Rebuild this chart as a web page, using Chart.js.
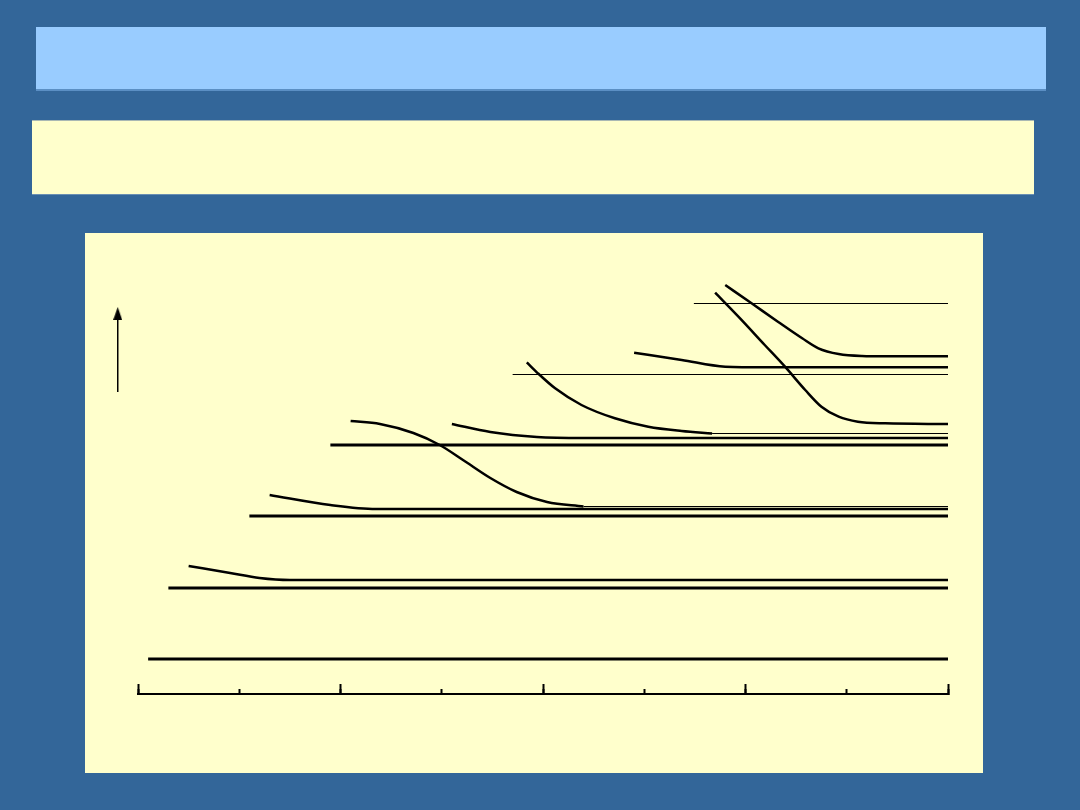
<!DOCTYPE html>
<html>
<head>
<meta charset="utf-8">
<script src="https://cdn.jsdelivr.net/npm/chart.js@4.4.1/dist/chart.umd.min.js"></script>
<style>
    html, body { margin: 0; padding: 0; }
    body { width: 1080px; height: 810px; background: #336699; position: relative; overflow: hidden; }
    #titleBar { position: absolute; left: 36px; top: 27px; width: 1010px; height: 62px; background: #99ccff; border-bottom: 2px solid #5b8fc4; }
    #subtitleBar { position: absolute; left: 32px; top: 120px; width: 1002px; height: 73px; background: #ffffcc; border-top: 1px solid #a9b8b4; border-bottom: 1px solid #6a8fb3; }
    #panel { position: absolute; left: 85px; top: 233px; width: 898px; height: 540px; background: #ffffcc; }
</style>
</head>
<body>
<div id="titleBar"></div>
<div id="subtitleBar"></div>
<div id="panel"><canvas id="levels"></canvas></div>
<script>
// x: position along the axis (0..8), y: height above the axis line

// plain levels (thick)
const level1 = [{x: 0.10, y: 35}, {x: 8, y: 35}];
const level2 = [{x: 0.30, y: 106}, {x: 8, y: 106}];
const level3 = [{x: 1.10, y: 178}, {x: 8, y: 178}];
const level4 = [{x: 1.90, y: 249}, {x: 8, y: 249}];

// curves that bend down onto a level
const curve1 = [{x: 0.50, y: 128}, {x: 0.91, y: 121}, {x: 1.20, y: 116}, {x: 1.50, y: 114}, {x: 8, y: 114}];
const curve2 = [{x: 1.30, y: 199}, {x: 1.90, y: 189}, {x: 2.35, y: 185}, {x: 8, y: 185}];
const curve3 = [{x: 2.10, y: 273}, {x: 2.39, y: 270}, {x: 2.72, y: 261}, {x: 2.98, y: 249}, {x: 3.21, y: 234},
                {x: 3.48, y: 216}, {x: 3.74, y: 202}, {x: 4.04, y: 192}, {x: 4.40, y: 187.5}];
const curve4 = [{x: 3.10, y: 270}, {x: 3.48, y: 262}, {x: 3.94, y: 257}, {x: 4.40, y: 256}, {x: 8, y: 256}];
const curve5 = [{x: 3.84, y: 331.7}, {x: 3.95, y: 320.7}, {x: 4.12, y: 305.7}, {x: 4.38, y: 289}, {x: 4.71, y: 275.7},
                {x: 5.04, y: 267.3}, {x: 5.37, y: 263}, {x: 5.67, y: 260.5}];
const curve6 = [{x: 4.90, y: 341.3}, {x: 5.37, y: 334}, {x: 5.80, y: 327.3}, {x: 6.20, y: 326.7}, {x: 8, y: 326.7}];
const curve7 = [{x: 5.70, y: 401.3}, {x: 5.93, y: 377.3}, {x: 6.19, y: 349}, {x: 6.39, y: 327.3}, {x: 6.59, y: 304},
                {x: 6.75, y: 287.3}, {x: 6.92, y: 277.3}, {x: 7.11, y: 272.3}, {x: 7.38, y: 270.7}, {x: 8, y: 270}];
const curve8 = [{x: 5.80, y: 409}, {x: 6.06, y: 390.7}, {x: 6.32, y: 372.3}, {x: 6.56, y: 355.7}, {x: 6.72, y: 345.7},
                {x: 6.92, y: 340}, {x: 7.15, y: 338}, {x: 7.38, y: 337.7}, {x: 8, y: 337.7}];

// thin guide lines
const thin1 = [{x: 4.40, y: 187.5}, {x: 8, y: 187.5}];
const thin2 = [{x: 5.67, y: 260.5}, {x: 8, y: 260.5}];
const thin3 = [{x: 3.70, y: 319.5}, {x: 8, y: 319.5}];
const thin4 = [{x: 5.49, y: 390.5}, {x: 8, y: 390.5}];

// upward arrow left of the axis
const arrowShaft = [{x: -0.20, y: 302}, {x: -0.20, y: 381}];
const arrowTip = [{x: -0.20, y: 380.5}];

// narrow arrow head used as a point style
const arrowHead = document.createElement('canvas');
arrowHead.width = 9;
arrowHead.height = 13;
const g = arrowHead.getContext('2d');
g.beginPath();
g.moveTo(4.5, 0);
g.lineTo(9, 13);
g.lineTo(0, 13);
g.closePath();
g.fillStyle = '#000';
g.fill();

function line(data, width) {
    return {
        data,
        showLine: true,
        borderColor: '#000',
        borderWidth: width,
        pointRadius: 0,
        cubicInterpolationMode: 'monotone',
        clip: false
    };
}

const datasets = [
    line(level1, 3), line(level2, 3), line(level3, 3), line(level4, 3),
    line(curve1, 2.5), line(curve2, 2.5), line(curve3, 2.5), line(curve4, 2.5),
    line(curve5, 2.5), line(curve6, 2.5), line(curve7, 2.5), line(curve8, 2.5),
    line(thin1, 1), line(thin2, 1), line(thin3, 1), line(thin4, 1),
    Object.assign(line(arrowShaft, 1.5), {cubicInterpolationMode: 'default', tension: 0}),
    {
        data: arrowTip,
        showLine: false,
        pointStyle: arrowHead,
        pointRadius: 30,
        clip: false
    }
];

new Chart(document.getElementById('levels'), {
    type: 'scatter',
    data: { datasets },
    options: {
        responsive: true,
        maintainAspectRatio: false,
        animation: false,
        events: [],
        layout: { padding: { left: 53, right: 35, top: 41, bottom: 79 } },
        plugins: {
            legend: { display: false },
            tooltip: { enabled: false }
        },
        scales: {
            x: {
                type: 'linear',
                position: { y: 0 },
                min: 0,
                max: 8,
                ticks: { stepSize: 2, display: false },
                grid: { drawOnChartArea: false, drawTicks: true, tickLength: -11, tickWidth: 2, tickColor: '#000' },
                border: { display: true, color: '#000', width: 2 }
            },
            xMinor: {
                type: 'linear',
                axis: 'x',
                position: { y: 0 },
                min: 0,
                max: 8,
                ticks: { stepSize: 1, display: false },
                grid: { drawOnChartArea: false, drawTicks: true, tickLength: -6, tickWidth: 2, tickColor: '#000' },
                border: { display: true, color: '#000', width: 2 }
            },
            y: {
                type: 'linear',
                display: false,
                min: 0,
                max: 420
            }
        }
    }
});
</script>
</body>
</html>
